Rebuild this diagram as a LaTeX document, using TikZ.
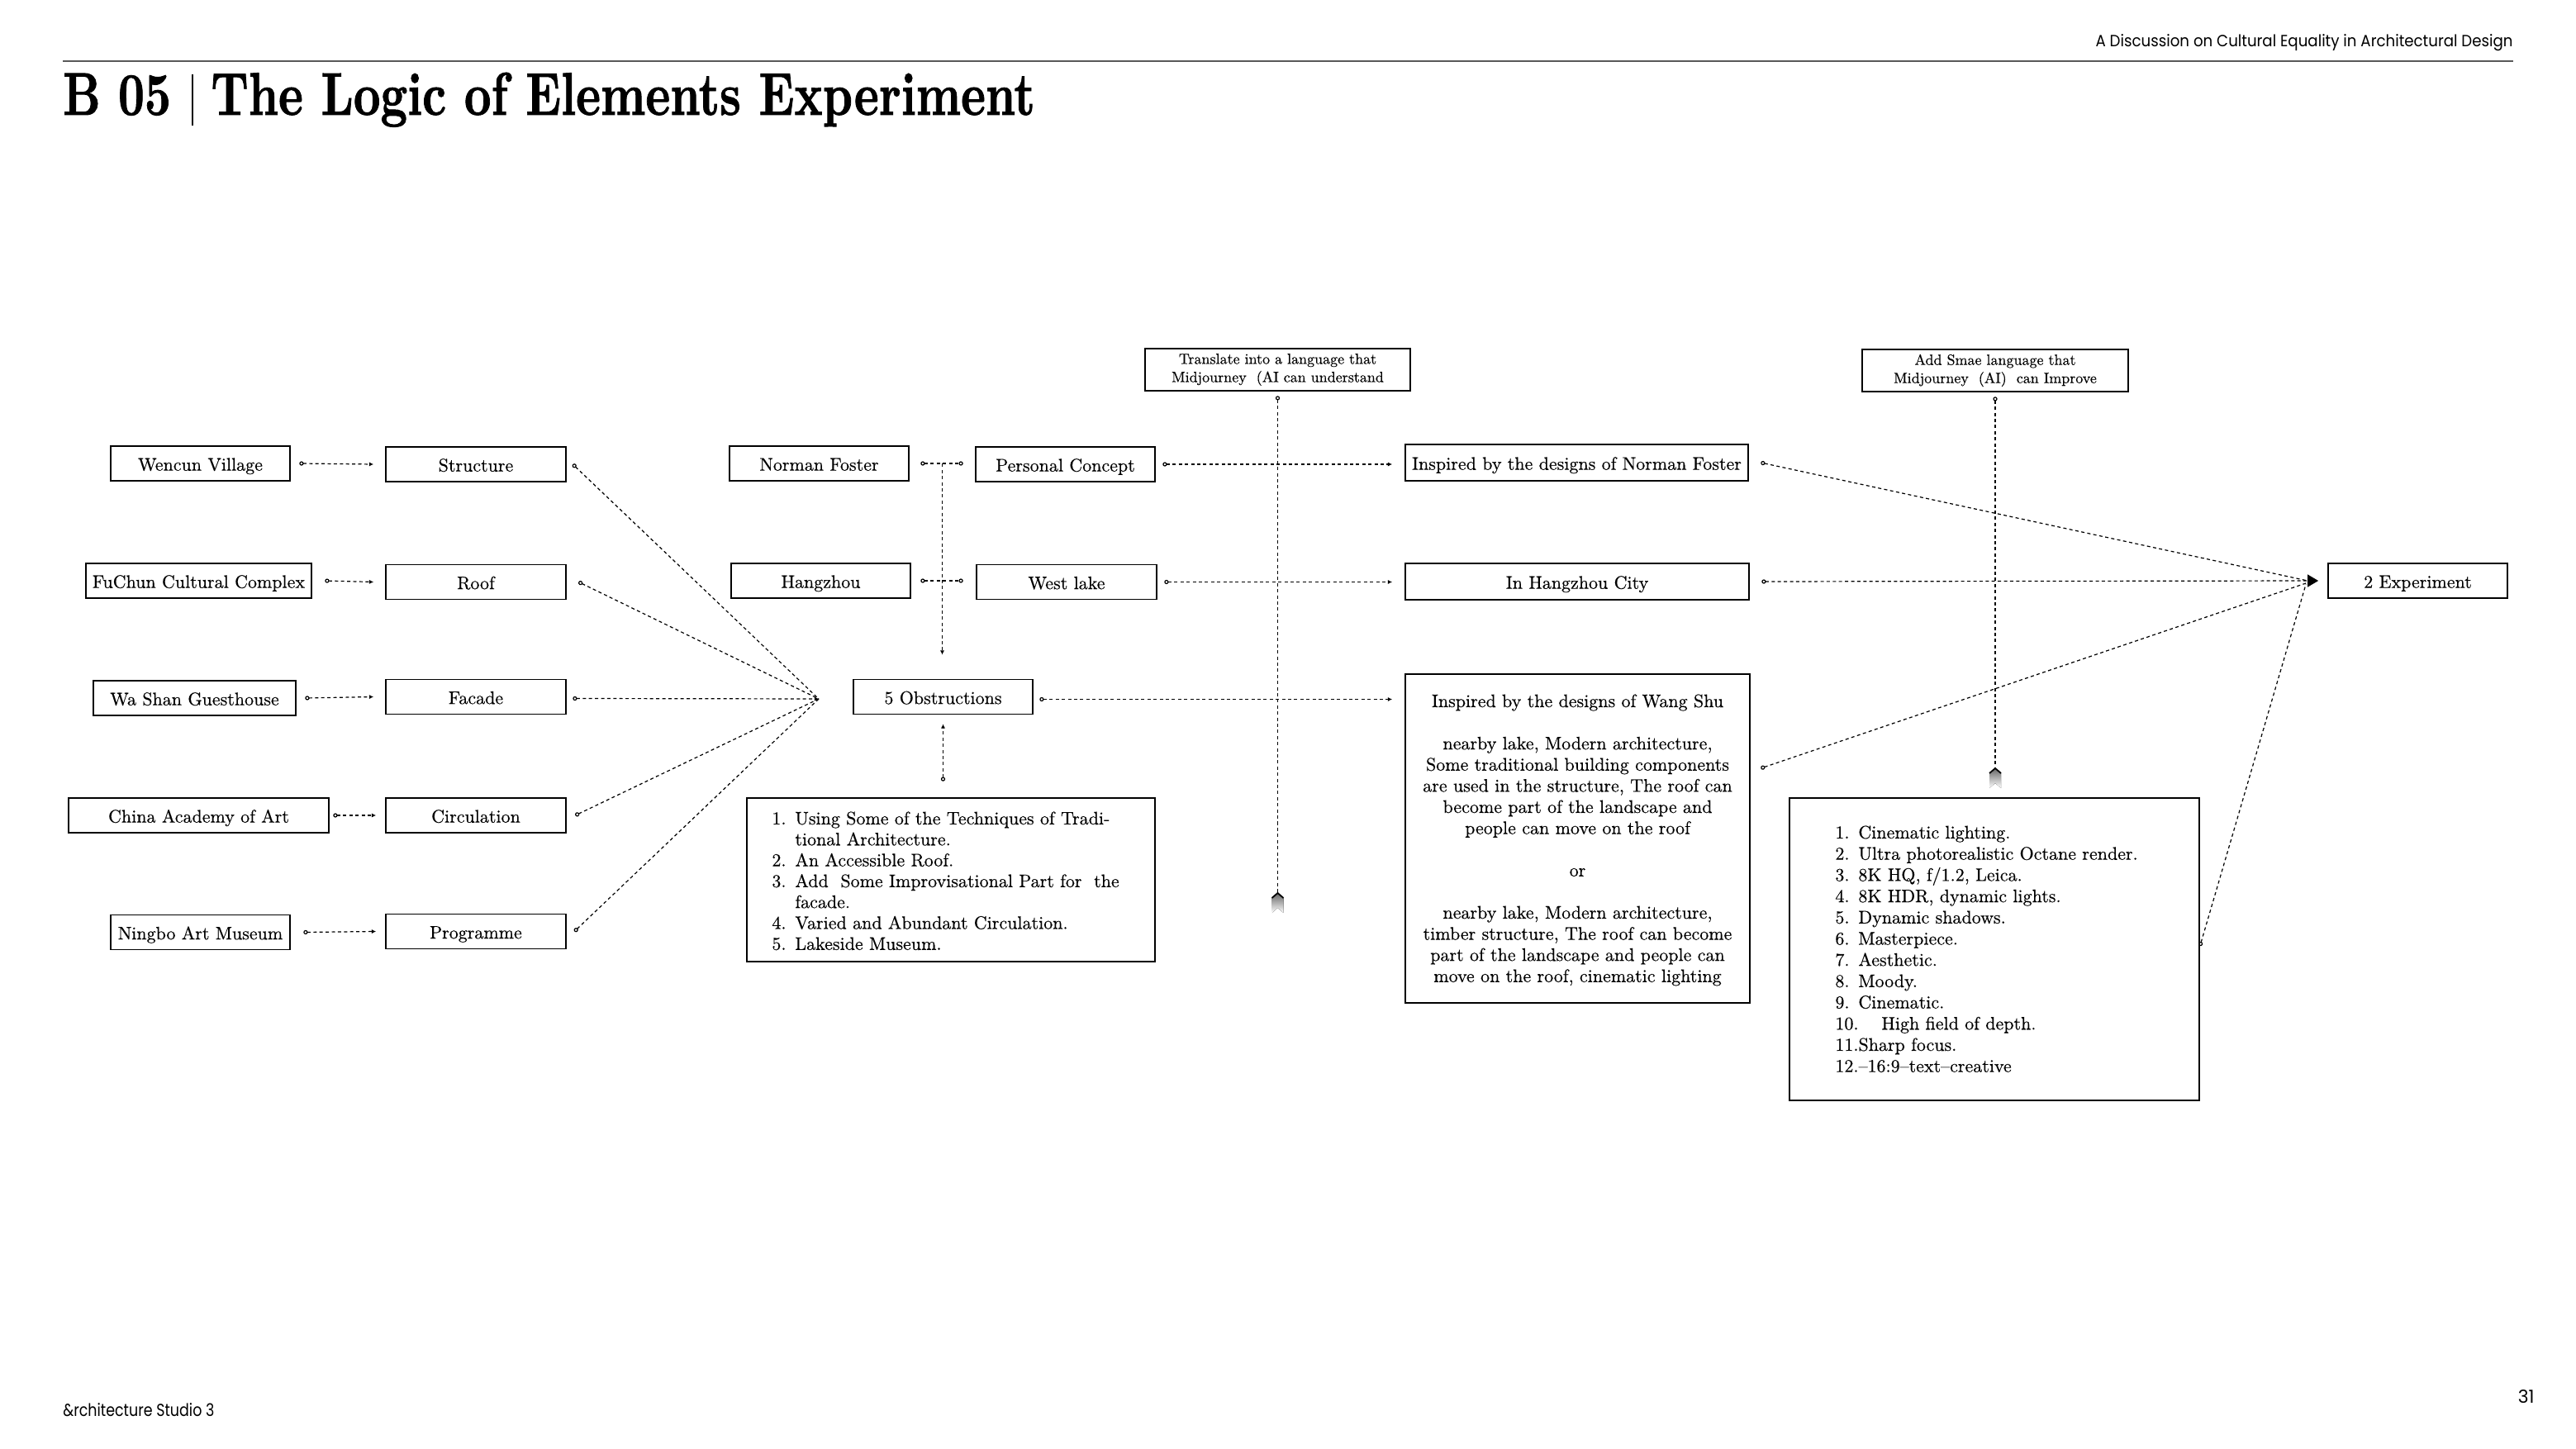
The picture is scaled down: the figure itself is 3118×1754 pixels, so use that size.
\documentclass[tikz,border=0pt]{standalone}
\usepackage{fontspec}
\setmainfont{lmroman10-regular.otf}[FakeBold=0.35]
\newfontfamily\sansf{Poppins}
\newfontfamily\ttlf{lmroman10-bold.otf}[FakeBold=1.3]
\usepackage{graphicx}
\usetikzlibrary{arrows.meta,calc}
\newcommand{\nb}[1]{\makebox[14pt][l]{#1}}
\newcommand{\mychev}[1]{%
  \fill[top color=black!60, bottom color=white, draw=none]
    ($(#1)+(-7,6)$) -- (#1) -- ($(#1)+(7,6)$) -- ($(#1)+(7,24)$) -- ($(#1)+(0,18)$) -- ($(#1)+(-7,24)$) -- cycle;
  \draw[line width=0.9pt] ($(#1)+(-7,6)$) -- (#1) -- ($(#1)+(7,6)$);}
\newcommand{\ttlfont}{\ttlf\fontsize{36.5pt}{40pt}\selectfont}
\tikzset{
  box/.style={draw, line width=0.9pt, inner sep=0pt, minimum height=21pt,
    font=\fontsize{11pt}{13pt}\selectfont, text height=10.5pt, text depth=1.8pt, align=center},
  tbox/.style={draw, line width=0.9pt, inner sep=0pt, minimum height=25.5pt,
    font=\fontsize{9pt}{11pt}\selectfont, align=center},
  frame/.style={draw, line width=0.9pt, inner sep=0pt},
  txt/.style={inner sep=0pt, font=\fontsize{11pt}{13pt}\selectfont},
  conn/.style={line width=0.6pt, dash pattern=on 2pt off 1.7pt},
  ca/.style={conn, {Circle[open,length=2.6pt,width=2.6pt]}-{Latex[length=2.6pt,width=2.6pt]}},
  co/.style={conn, {Circle[open,length=2.6pt,width=2.6pt]}-},
  cc/.style={conn, {Circle[open,length=2.6pt,width=2.6pt]}-{Circle[open,length=2.6pt,width=2.6pt]}},
  na/.style={conn, -{Latex[length=2.6pt,width=2.6pt]}},
  cbig/.style={conn, {Circle[open,length=2.6pt,width=2.6pt]}-{Triangle[length=6.5pt,width=7.5pt]}},
  ttl/.style={anchor=base west, inner sep=0pt},
}
\begin{document}
\begin{tikzpicture}[x=0.5pt,y=-0.5pt]
\useasboundingbox (0,0) rectangle (3118,1754);
\fill[white] (0,0) rectangle (3118,1754);

% header
\node[anchor=base east, inner sep=0pt] (hdr) at (3042,57)
  {\resizebox{252.5pt}{7.5pt}{\sansf A Discussion on Cultural Equality in Architectural Design}};
\draw[line width=1pt, black!65] (76,74) -- (3042,74);
\node[ttl] (tb) at (76,139)
  {\scalebox{0.76}[1]{\ttlfont B 05}};
\draw[line width=0.6pt] (233,90) -- (233,152);
\node[ttl] (tt) at (255,139)
  {\scalebox{0.777}[1]{\ttlfont The Logic of Elements Experiment}};

% footer
\node[anchor=base west, inner sep=0pt] (foot) at (76,1714)
  {\resizebox{91.5pt}{8pt}{\sansf\&rchitecture Studio 3}};
\node[anchor=base east, inner sep=0pt] (pg) at (3068,1698)
  {\resizebox{!}{8pt}{\sansf 31}};

% left column
\node[box, minimum width=108.5pt] (wencun) at (242.5,561) {Wencun Village};
\node[box, minimum width=136.5pt] (fuchun) at (240.5,703) {FuChun Cultural Complex};
\node[box, minimum width=122.5pt] (washan) at (235.5,845) {Wa Shan Guesthouse};
\node[box, minimum width=157.5pt] (china) at (240.5,987) {China Academy of Art};
\node[box, minimum width=108.5pt] (ningbo) at (242.5,1128.5) {Ningbo Art Museum};

\node[box, minimum width=109pt] (structure) at (576,562) {Structure};
\node[box, minimum width=109pt] (roof) at (576,704.5) {Roof};
\node[box, minimum width=109pt] (facade) at (576,843.5) {Facade};
\node[box, minimum width=109pt] (circulation) at (576,987) {Circulation};
\node[box, minimum width=109pt] (programme) at (576,1127.5) {Programme};

% middle
\node[box, minimum width=108.5pt] (normanf) at (991.5,561) {Norman Foster};
\node[box, minimum width=108.5pt] (hangzhou) at (993.5,703) {Hangzhou};
\node[box, minimum width=108.5pt] (personal) at (1289.5,562) {Personal Concept};
\node[box, minimum width=109pt] (westlake) at (1291,704.5) {West lake};
\node[box, minimum width=108.5pt] (obstr) at (1141.5,843.5) {5 Obstructions};
\node[frame, minimum width=247pt, minimum height=99pt] (list1) at (1151,1065) {};
\foreach \t [count=\i from 0] in {%
  {\nb{1.}Using Some of the Techniques of Tradi-},
  {\nb{}tional Architecture.},
  {\nb{2.}An Accessible Roof.},
  {\nb{3.}Add\ \ Some Improvisational Part for\ \ the},
  {\nb{}facade.},
  {\nb{4.}Varied and Abundant Circulation.},
  {\nb{5.}Lakeside Museum.}}
  \node[txt, anchor=base west] (la\i) at (934,{998+25.3*\i}) {\t};

% top prompts
\node[tbox, minimum width=160.5pt] (translate) at (1546.5,447.5)
  {Translate into a language that\\Midjourney\ \ (AI can understand};
\node[tbox, minimum width=161pt] (addsmae) at (2415,448.5)
  {Add Smae language that\\Midjourney\ \ (AI)\ \ can Improve};

% right middle
\node[box, minimum width=207.5pt, minimum height=22pt] (inspnf) at (1908.5,560) {Inspired by the designs of Norman Foster};
\node[box, minimum width=208pt, minimum height=22pt] (insphz) at (1909,704) {In Hangzhou City};
\node[frame, minimum width=208.5pt, minimum height=199pt] (wangshu) at (1909.5,1015) {};
\foreach \t [count=\i from 0] in {%
  {Inspired by the designs of Wang Shu},{},
  {nearby lake, Modern architecture,},
  {Some traditional building components},
  {are used in the structure, The roof can},
  {become part of the landscape and},
  {people can move on the roof},{},{or},{},
  {nearby lake, Modern architecture,},
  {timber structure, The roof can become},
  {part of the landscape and people can},
  {move on the roof, cinematic lighting}}
  \node[txt, anchor=base] (ws\i) at (1909.5,{856+25.6*\i}) {\t};

\node[frame, minimum width=248pt, minimum height=183pt] (list2) at (2414,1149) {};
\foreach \t [count=\i from 0] in {%
  {\nb{1.}Cinematic lighting.},
  {\nb{2.}Ultra photorealistic Octane render.},
  {\nb{3.}8K HQ, f/1.2, Leica.},
  {\nb{4.}8K HDR, dynamic lights.},
  {\nb{5.}Dynamic shadows.},
  {\nb{6.}Masterpiece.},
  {\nb{7.}Aesthetic.},
  {\nb{8.}Moody.},
  {\nb{9.}Cinematic.},
  {\makebox[28pt][l]{10.}High field of depth.},
  {11.Sharp focus.},
  {12.--16:9--text--creative}}
  \node[txt, anchor=base west] (lb\i) at (2221,{1015+25.7*\i}) {\t};

\node[box, minimum width=108.5pt] (exp2) at (2926.5,703) {2 Experiment};

% coordinates
\coordinate (conv1) at (991,846);
\coordinate (conv2) at ([xshift=-5.5pt]exp2.west);
\coordinate (j1) at ($(normanf.east)!0.5!(personal.west)$);
\coordinate (tipA) at ($(obstr.north)+(0,-29)$);
\coordinate (chev1) at (1546.5,1081);
\coordinate (chev2) at (2415,930);

% left connectors
\draw[ca] ([xshift=5.2pt]wencun.east) -- ([xshift=-7pt]structure.west);
\draw[ca] ([xshift=7.7pt]fuchun.east) -- ([xshift=-7pt]roof.west);
\draw[ca] ([xshift=5.2pt]washan.east) -- ([xshift=-7pt]facade.west);
\draw[ca] ([xshift=2.2pt]china.east) -- ([xshift=-5.5pt]circulation.west);
\draw[ca] ([xshift=7.7pt]ningbo.east) -- ([xshift=-5.5pt]programme.west);

\draw[co] ([xshift=3.7pt]structure.east) -- (conv1);
\draw[co] ([xshift=7.2pt]roof.east) -- (conv1);
\draw[ca] ([xshift=3.7pt,yshift=-1pt]facade.east) -- (conv1);
\draw[co] ([xshift=5.2pt]circulation.east) -- (conv1);
\draw[co] ([xshift=4.7pt]programme.east) -- (conv1);

% middle connectors
\draw[cc] ([xshift=6.7pt]normanf.east) -- ([xshift=-7.2pt]personal.west |- normanf.east);
\draw[cc] ([xshift=5.7pt]hangzhou.east) -- ([xshift=-7.7pt]westlake.west |- hangzhou.east);
\draw[na] (j1) -- (j1 |- tipA);
\draw[ca] ($(obstr.south |- list1.north)+(0,-19.4)$) -- ($(obstr.south)+(0,11)$);

\draw[ca] ([xshift=4.2pt]personal.east) -- ([xshift=-7.5pt]inspnf.west |- personal.east);
\draw[ca] ([xshift=4.2pt]westlake.east) -- ([xshift=-7.5pt]insphz.west |- westlake.east);
\draw[ca] ([xshift=3.7pt,yshift=-1.5pt]obstr.east) -- ([xshift=-7.5pt,yshift=-1.5pt]wangshu.west |- obstr.east);

% prompt verticals
\draw[co] ([yshift=-2.7pt]translate.south) -- (chev1);
\mychev{chev1}
\draw[co] ([yshift=-2.7pt]addsmae.south) -- (chev2);
\mychev{chev2}

% right connectors
\draw[co] ([xshift=7.2pt]inspnf.east) -- ($(conv2)+(-13,0)$);
\draw[cbig] ([xshift=7.2pt]insphz.east) -- (conv2);
\draw[co] ($(wangshu.east)+(12.4,-85)$) -- ($(conv2)+(-15,3)$);
\draw[co] ($(list2.east)+(0,-4)$) -- ($(conv2)+(-15,4)$);
\end{tikzpicture}
\end{document}
